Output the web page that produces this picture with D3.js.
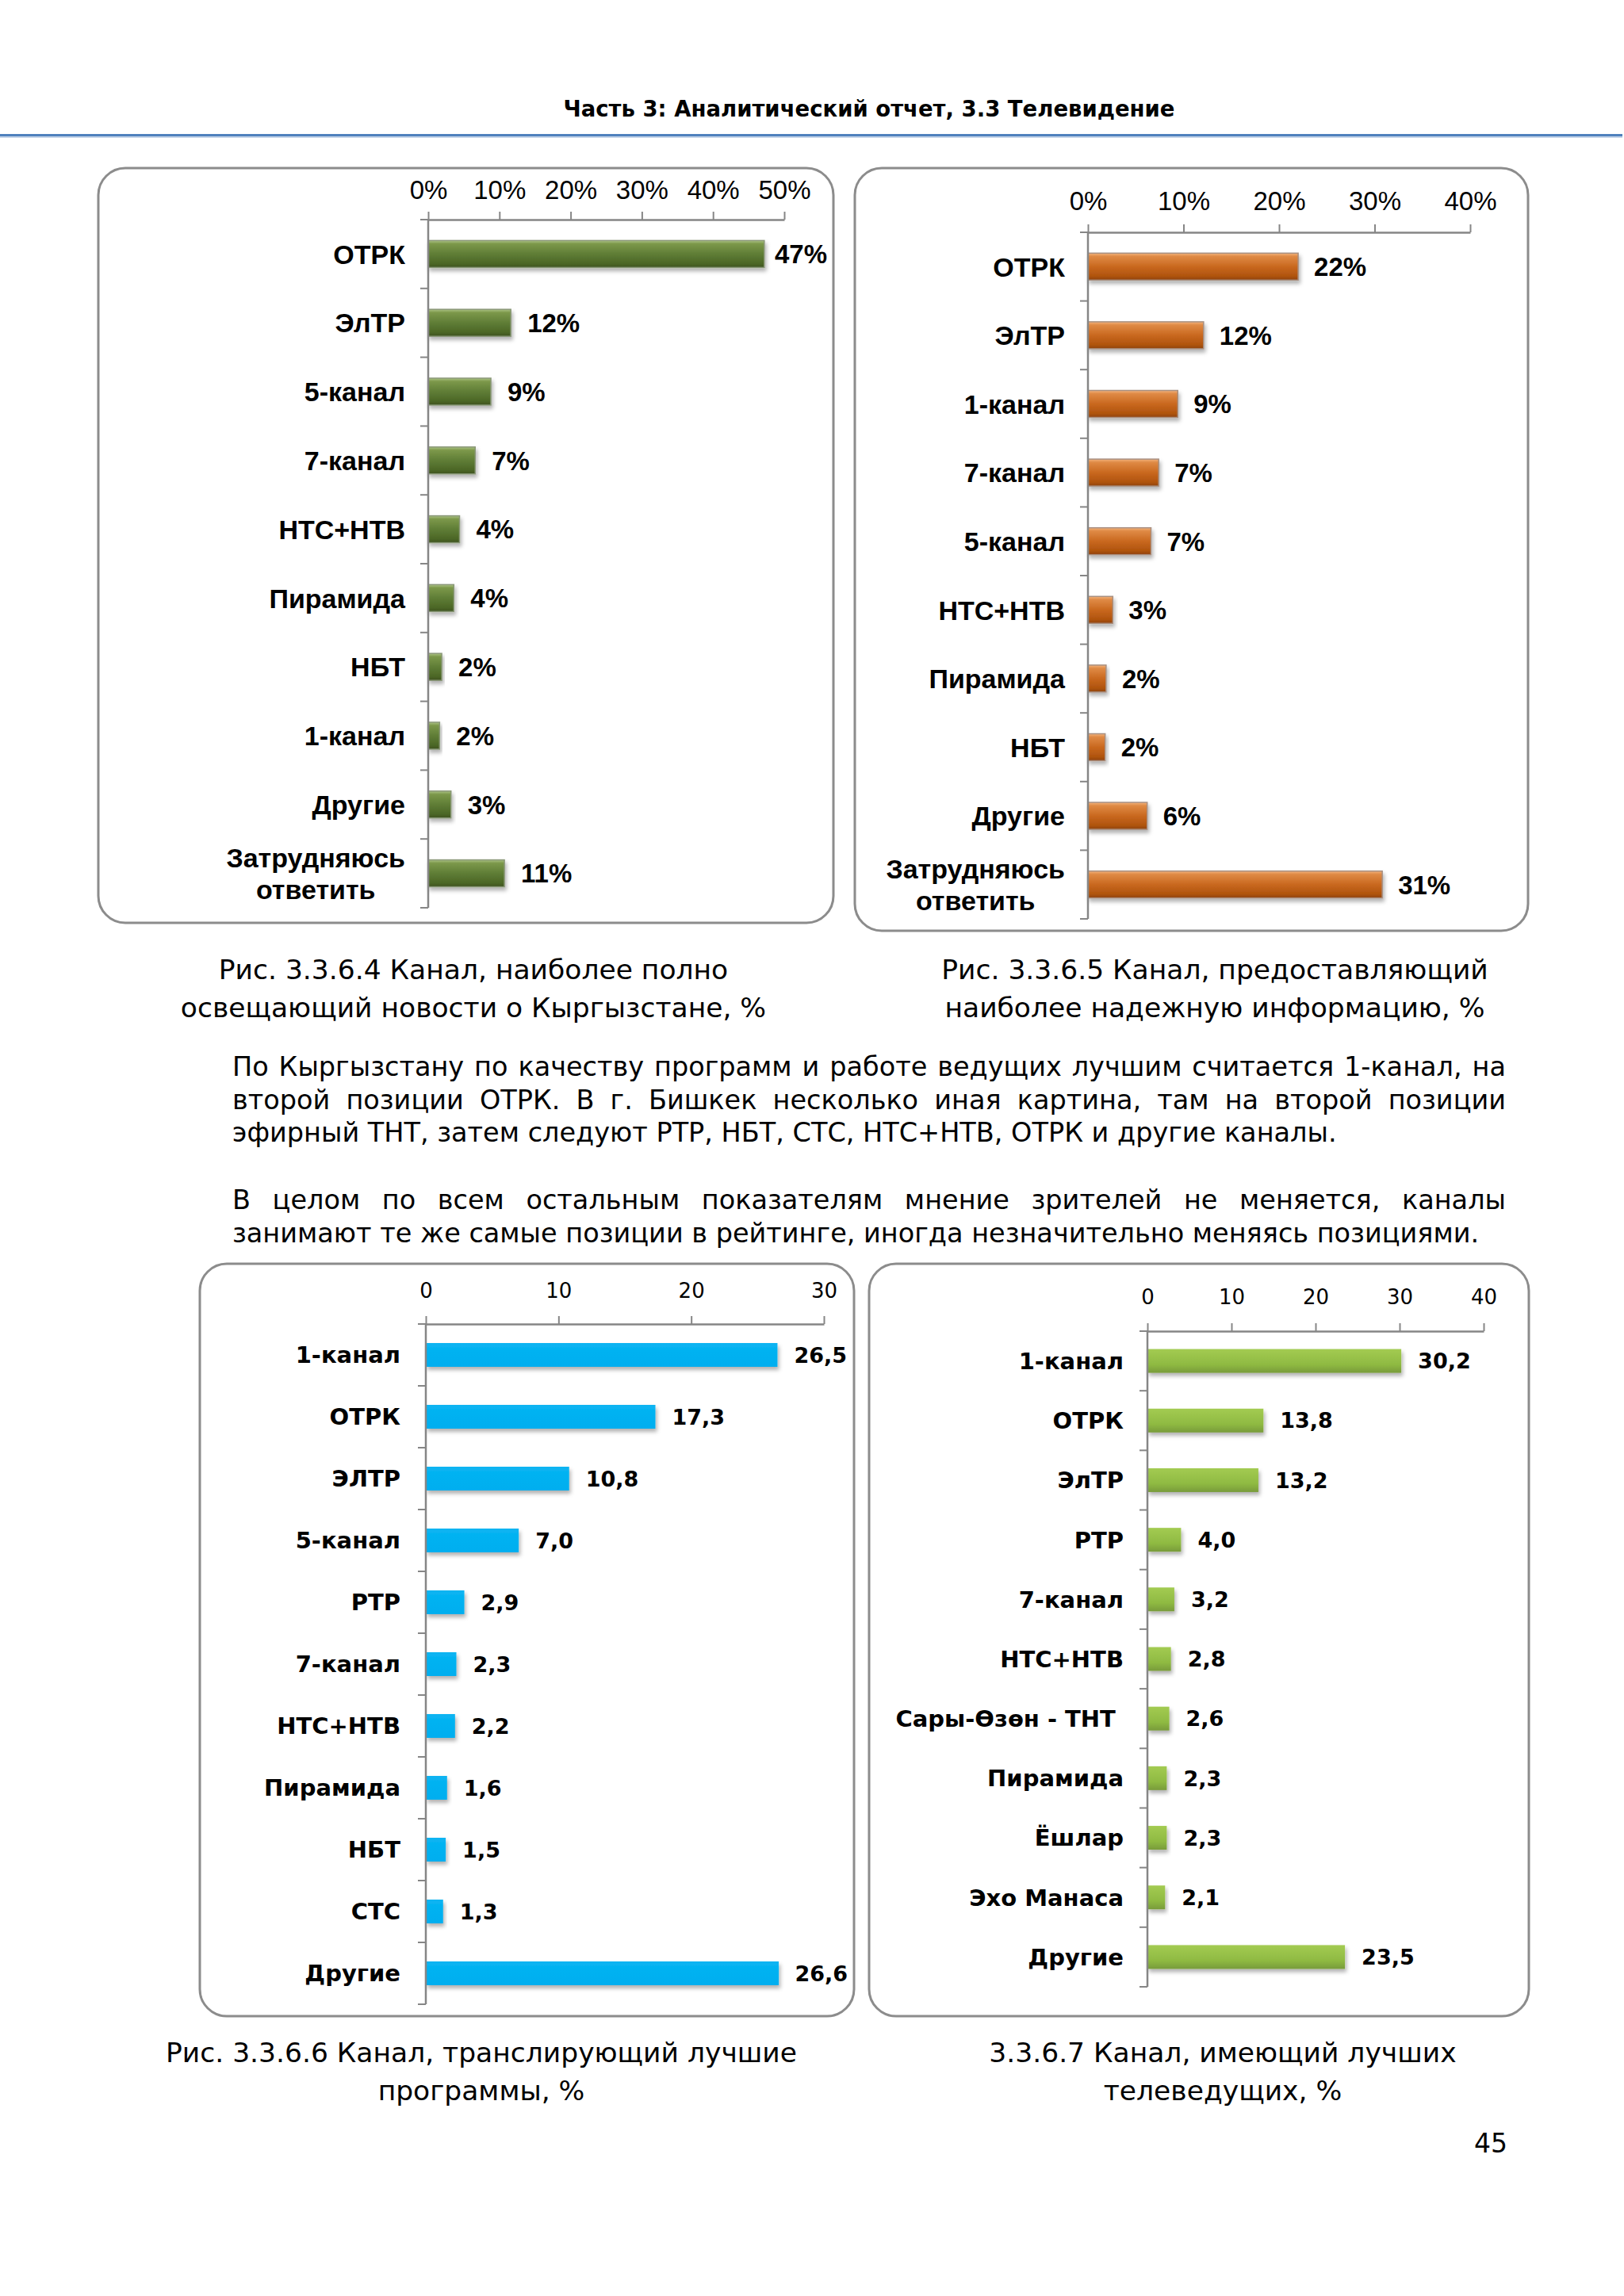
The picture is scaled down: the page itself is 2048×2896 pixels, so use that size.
<!DOCTYPE html>
<html>
<head>
<meta charset="utf-8">
<script src="https://cdn.jsdelivr.net/npm/d3@7/dist/d3.min.js"></script>
<style>
  body { margin: 0; background: #fff; }
</style>
</head>
<body>
<svg id="page" width="2048" height="2896"></svg>
<script>
// ---- data ----
var newsCats = ["ОТРК", "ЭлТР", "5-канал", "7-канал", "НТС+НТВ", "Пирамида", "НБТ", "1-канал", "Другие", "Затрудняюсь\nответить"];
var newsVals = [47.2, 11.6, 8.8, 6.6, 4.4, 3.6, 1.9, 1.6, 3.2, 10.7];
var newsTicks = [0, 10, 20, 30, 40, 50];

var trustCats = ["ОТРК", "ЭлТР", "1-канал", "7-канал", "5-канал", "НТС+НТВ", "Пирамида", "НБТ", "Другие", "Затрудняюсь\nответить"];
var trustVals = [22.0, 12.1, 9.4, 7.4, 6.6, 2.6, 1.9, 1.8, 6.2, 30.8];
var trustTicks = [0, 10, 20, 30, 40];

var progCats = ["1-канал", "ОТРК", "ЭЛТР", "5-канал", "РТР", "7-канал", "НТС+НТВ", "Пирамида", "НБТ", "СТС", "Другие"];
var progVals = [26.5, 17.3, 10.8, 7.0, 2.9, 2.3, 2.2, 1.6, 1.5, 1.3, 26.6];
var progTicks = [0, 10, 20, 30];

var hostCats = ["1-канал", "ОТРК", "ЭлТР", "РТР", "7-канал", "НТС+НТВ", "Сары-Өзөн - ТНТ\u00a0", "Пирамида", "Ёшлар", "Эхо Манаса", "Другие"];
var hostVals = [30.2, 13.8, 13.2, 4.0, 3.2, 2.8, 2.6, 2.3, 2.3, 2.1, 23.5];
var hostTicks = [0, 10, 20, 30, 40];

var para1 = [
  "По Кыргызстану по качеству программ и работе ведущих лучшим считается 1-канал, на",
  "второй позиции ОТРК. В г. Бишкек несколько иная картина, там на второй позиции",
  "эфирный ТНТ, затем следуют РТР, НБТ, СТС, НТС+НТВ, ОТРК и другие каналы."
];
var para2 = [
  "В целом по всем остальным показателям мнение зрителей не меняется, каналы",
  "занимают те же самые позиции в рейтинге, иногда незначительно меняясь позициями."
];

var ARIAL = "'Liberation Sans', Arial, sans-serif";
var VERDANA = "'DejaVu Sans', Verdana, sans-serif";
var axisCol = "#868686";

var svg = d3.select("#page");
svg.append("rect").attr("width", 2048).attr("height", 2896).attr("fill", "#fff");
var defs = svg.append("defs");

function addGrad(id, stops) {
  var lg = defs.append("linearGradient").attr("id", id)
    .attr("x1", 0).attr("y1", 0).attr("x2", 0).attr("y2", 1);
  lg.selectAll("stop").data(stops).join("stop")
    .attr("offset", function (d) { return d[0]; })
    .attr("stop-color", function (d) { return d[1]; });
}
addGrad("gDark", [[0, "#adc486"], [0.12, "#7c984a"], [0.5, "#5f7d36"], [0.85, "#4c6726"], [1, "#3d5220"]]);
addGrad("gOrange", [[0, "#f4b47e"], [0.12, "#df8a45"], [0.5, "#c9681f"], [0.85, "#b0540e"], [1, "#8f4310"]]);
addGrad("gBlue", [[0, "#08b4f2"], [1, "#00aeef"]]);
addGrad("gLight", [[0, "#a3cb52"], [0.65, "#8fba42"], [1, "#789b3a"]]);

var sh = defs.append("filter").attr("id", "shadow")
  .attr("x", "-10%").attr("y", "-30%").attr("width", "130%").attr("height", "190%");
sh.append("feDropShadow").attr("dx", 2).attr("dy", 4).attr("stdDeviation", 2.5)
  .attr("flood-color", "#000").attr("flood-opacity", 0.3);

// ---- header ----
svg.append("text").attr("x", 1096).attr("y", 147).attr("text-anchor", "middle")
  .attr("font-family", VERDANA).attr("font-weight", "bold").attr("font-size", 27.5)
  .text("Часть 3: Аналитический отчет, 3.3 Телевидение");
svg.append("rect").attr("x", 0).attr("y", 169).attr("width", 2046).attr("height", 3).attr("fill", "#4f81bd");
svg.append("rect").attr("x", 0).attr("y", 172).attr("width", 2046).attr("height", 2).attr("fill", "#c6d6ea");

function drawChart(o) {
  var g = svg.append("g");
  g.append("rect").attr("x", o.box[0]).attr("y", o.box[1]).attr("width", o.box[2] - o.box[0])
    .attr("height", o.box[3] - o.box[1]).attr("rx", 34).attr("ry", 34)
    .attr("fill", "#fff").attr("stroke", "#8c8c8c").attr("stroke-width", 3);

  var x = d3.scaleLinear().domain([0, d3.max(o.ticks)]).range([o.x0, o.x1]);
  var y = d3.scaleBand().domain(o.cats).range([o.top, o.bottom]);
  var rows = d3.zip(o.cats, o.vals);

  // bars
  g.selectAll("rect.bar").data(rows).join("rect").attr("class", "bar")
    .attr("x", x(0))
    .attr("y", function (d) { return y(d[0]) + (y.bandwidth() - o.barH) / 2; })
    .attr("width", function (d) { return x(d[1]) - x(0); })
    .attr("height", o.barH)
    .attr("fill", "url(#" + o.grad + ")")
    .attr("stroke", o.barStroke || "none").attr("stroke-width", 1.5)
    .attr("filter", "url(#shadow)");

  // x axis on top
  var gx = g.append("g").attr("transform", "translate(0," + o.top + ")")
    .call(d3.axisTop(x).tickValues(o.ticks).tickSize(10).tickSizeOuter(0)
      .tickPadding(o.tickPad).tickFormat(o.tickFmt));
  gx.attr("font-family", o.tickFont).attr("font-size", o.tickSize);
  gx.select(".domain").attr("stroke", axisCol).attr("stroke-width", 2.5);
  gx.selectAll(".tick line").attr("stroke", axisCol).attr("stroke-width", 2);
  gx.selectAll(".tick text").attr("fill", "#000");

  // y axis with ticks at band edges
  g.append("line").attr("x1", x(0)).attr("x2", x(0)).attr("y1", o.top).attr("y2", o.bottom)
    .attr("stroke", axisCol).attr("stroke-width", 2.5);
  var edges = o.cats.map(function (c) { return y(c); }).concat([o.bottom]);
  g.selectAll("line.yt").data(edges).join("line").attr("class", "yt")
    .attr("x1", x(0) - 10).attr("x2", x(0))
    .attr("y1", function (d) { return d; }).attr("y2", function (d) { return d; })
    .attr("stroke", axisCol).attr("stroke-width", 2);

  // category labels
  g.selectAll("text.cat").data(rows).join("text").attr("class", "cat")
    .attr("font-family", o.labFont).attr("font-weight", "bold").attr("font-size", o.labSize)
    .attr("fill", "#000")
    .each(function (d) {
      var t = d3.select(this);
      var lines = d[0].split("\n");
      var cy = y(d[0]) + y.bandwidth() / 2;
      if (lines.length === 1) {
        t.attr("x", o.labelRight).attr("y", cy).attr("dy", "0.36em")
          .attr("text-anchor", "end").text(lines[0]);
      } else {
        t.attr("text-anchor", "middle");
        var sp = t.selectAll("tspan").data(lines).join("tspan")
          .attr("y", function (l, i) { return cy + (i - (lines.length - 1) / 2) * o.lineH; })
          .attr("dy", "0.36em").text(function (l) { return l; });
        var w = d3.max(sp.nodes(), function (n) { return n.getComputedTextLength(); });
        sp.attr("x", o.labelRight - w / 2);
      }
    });

  // value labels
  g.selectAll("text.val").data(rows).join("text").attr("class", "val")
    .attr("font-family", o.valFont).attr("font-weight", "bold").attr("font-size", o.valSize)
    .attr("fill", "#000")
    .attr("y", function (d) { return y(d[0]) + y.bandwidth() / 2; }).attr("dy", "0.36em")
    .text(function (d) { return o.valFmt(d[1]); })
    .attr("x", function (d) {
      var w = this.getComputedTextLength();
      return Math.min(x(d[1]) + o.valGap, o.box[2] - 8 - w);
    });

  // caption
  svg.append("text").attr("text-anchor", "middle").attr("font-family", VERDANA)
    .attr("font-size", 34.5).attr("fill", "#000")
    .selectAll("tspan").data(o.caption).join("tspan")
    .attr("x", o.capX).attr("y", function (d, i) { return o.capY + i * 48; })
    .text(function (d) { return d; });
}

var pct = function (v) { return v + "%"; };
var pctRound = function (v) { return Math.round(v) + "%"; };
var comma = function (v) { return d3.format(".1f")(v).replace(".", ","); };

drawChart({
  cats: newsCats, vals: newsVals, ticks: newsTicks,
  box: [124, 212, 1051, 1164], x0: 540, x1: 989, top: 277, bottom: 1145,
  barH: 34, grad: "gDark", barStroke: "#8a9878",
  tickPad: 16, tickFmt: pct, tickFont: ARIAL, tickSize: 33,
  labFont: ARIAL, labSize: 34, labelRight: 511, lineH: 40,
  valFont: ARIAL, valSize: 33, valGap: 21, valFmt: pctRound,
  caption: ["Рис. 3.3.6.4 Канал, наиболее полно", "освещающий новости о Кыргызстане, %"],
  capX: 597, capY: 1235
});

drawChart({
  cats: trustCats, vals: trustVals, ticks: trustTicks,
  box: [1078, 212, 1927, 1174], x0: 1372, x1: 1854, top: 293, bottom: 1159,
  barH: 34, grad: "gOrange", barStroke: "#a88f80",
  tickPad: 18, tickFmt: pct, tickFont: ARIAL, tickSize: 33,
  labFont: ARIAL, labSize: 34, labelRight: 1343, lineH: 40,
  valFont: ARIAL, valSize: 33, valGap: 20, valFmt: pctRound,
  caption: ["Рис. 3.3.6.5 Канал, предоставляющий", "наиболее надежную информацию, %"],
  capX: 1532, capY: 1235
});

drawChart({
  cats: progCats, vals: progVals, ticks: progTicks,
  box: [252, 1594, 1077, 2543], x0: 537, x1: 1039, top: 1670, bottom: 2528,
  barH: 30, grad: "gBlue", barStroke: null,
  tickPad: 23, tickFmt: d3.format("d"), tickFont: VERDANA, tickSize: 26,
  labFont: VERDANA, labSize: 29, labelRight: 505, lineH: 36,
  valFont: VERDANA, valSize: 27, valGap: 21, valFmt: comma,
  caption: ["Рис. 3.3.6.6 Канал, транслирующий лучшие", "программы, %"],
  capX: 607, capY: 2601
});

drawChart({
  cats: hostCats, vals: hostVals, ticks: hostTicks,
  box: [1096, 1594, 1928, 2543], x0: 1447, x1: 1871, top: 1679, bottom: 2506,
  barH: 30, grad: "gLight", barStroke: null,
  tickPad: 24, tickFmt: d3.format("d"), tickFont: VERDANA, tickSize: 26,
  labFont: VERDANA, labSize: 29, labelRight: 1417, lineH: 36,
  valFont: VERDANA, valSize: 27, valGap: 21, valFmt: comma,
  caption: ["3.3.6.7 Канал, имеющий лучших", "телеведущих, %"],
  capX: 1542, capY: 2601
});

// ---- body text, justified ----
function textLine(txt, x0, x1, yb, justify) {
  var t = svg.append("text").attr("y", yb).attr("font-family", VERDANA)
    .attr("font-size", 33.5).attr("fill", "#000");
  if (!justify) { t.attr("x", x0).text(txt); return; }
  var words = txt.split(" ");
  var spans = t.selectAll("tspan").data(words).join("tspan").text(function (d) { return d; });
  var widths = spans.nodes().map(function (n) { return n.getComputedTextLength(); });
  var gap = (x1 - x0 - d3.sum(widths)) / (words.length - 1);
  var cx = x0;
  spans.attr("x", function (d, i) { var v = cx; cx += widths[i] + gap; return v; });
}
para1.forEach(function (l, i) { textLine(l, 293, 1899, 1357 + i * 41.5, i < para1.length - 1); });
para2.forEach(function (l, i) { textLine(l, 293, 1899, 1525 + i * 41.5, i < para2.length - 1); });

svg.append("text").attr("x", 1880).attr("y", 2715).attr("text-anchor", "middle")
  .attr("font-family", VERDANA).attr("font-size", 33).text("45");
</script>
</body>
</html>
